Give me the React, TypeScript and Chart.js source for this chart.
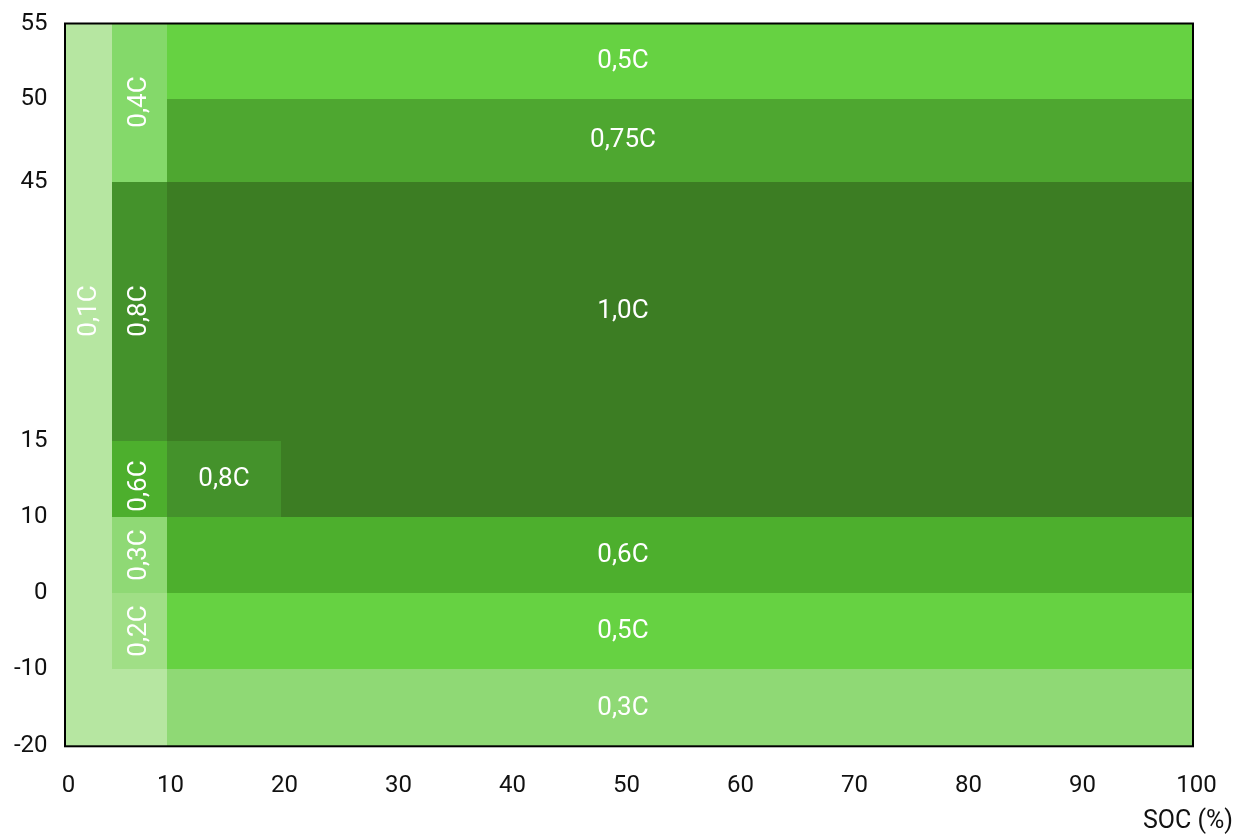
import React, { useEffect, useRef } from 'react';
import { Chart, LinearScale, registerables } from 'chart.js';

// ---------- data ----------
const SOC_EDGES = [0, 5, 10, 20, 100];
const TEMP_EDGES = [-20, -10, 0, 10, 15, 45, 50, 55];

// charge rate (C) per temperature band (bottom to top) and SOC band (left to right)
const RATE_M20_M10 = [0.1, 0.1, 0.3, 0.3];
const RATE_M10_0 = [0.1, 0.2, 0.5, 0.5];
const RATE_0_10 = [0.1, 0.3, 0.6, 0.6];
const RATE_10_15 = [0.1, 0.6, 0.8, 1.0];
const RATE_15_45 = [0.1, 0.8, 1.0, 1.0];
const RATE_45_50 = [0.1, 0.4, 0.75, 0.75];
const RATE_50_55 = [0.1, 0.4, 0.5, 0.5];
const RATE_ROWS = [RATE_M20_M10, RATE_M10_0, RATE_0_10, RATE_10_15, RATE_15_45, RATE_45_50, RATE_50_55];

const X_TICKS = [0, 10, 20, 30, 40, 50, 60, 70, 80, 90, 100];
const Y_TICKS = [-20, -10, 0, 10, 15, 45, 50, 55];
const X_TITLE = 'SOC (%)';

// labels of the merged regions (anchor in SOC / temperature units)
const LABEL_RATES = [0.1, 0.4, 0.8, 0.6, 0.3, 0.2, 0.5, 0.75, 1.0, 0.8, 0.6, 0.5, 0.3];
const LABEL_SOC = [2.5, 7.5, 7.5, 7.5, 7.5, 7.5, 50, 50, 50, 15, 50, 50, 50];
const LABEL_TEMP = [30, 49.8, 30, 12, 5, -5, 52.5, 47.5, 30, 12.5, 5, -5, -15];
const LABEL_VERTICAL = [true, true, true, true, true, true, false, false, false, false, false, false, false];

// ---------- style ----------
const RATE_COLORS: Record<string, string> = {
  '0.1': '#b6e6a1',
  '0.2': '#a0df86',
  '0.3': '#8fd975',
  '0.4': '#84d96a',
  '0.5': '#66d242',
  '0.6': '#4daf2d',
  '0.75': '#4ea730',
  '0.8': '#44922b',
  '1': '#3c7d23',
};
const X_BAND_WEIGHTS = [47, 54.7, 114.3, 912];
const Y_BAND_WEIGHTS = [77, 76, 76.6, 76, 259, 83, 75.2];
const FONT = 'Roboto, "Liberation Sans", Arial, sans-serif';
const TICK_COLOR = '#111111';

const fmtRate = (r: number) => {
  const tenth = Math.abs(r * 10 - Math.round(r * 10)) < 1e-9;
  return (tenth ? r.toFixed(1) : r.toFixed(2)).replace('.', ',') + 'C';
};

// piecewise-linear scale: each band between edges gets its own share of the axis
class BandScale extends LinearScale {
  static id = 'band';
  _frac(value: number): number {
    const o: any = this.options;
    const edges: number[] = o.bandEdges;
    const weights: number[] = o.bandWeights;
    if (!edges || !weights) return (value - this.min) / (this.max - this.min);
    const total = weights.reduce((a, b) => a + b, 0);
    let acc = 0;
    for (let i = 0; i < weights.length; i++) {
      const a = edges[i];
      const b = edges[i + 1];
      if (value <= b || i === weights.length - 1) {
        return (acc + (weights[i] * (value - a)) / (b - a)) / total;
      }
      acc += weights[i];
    }
    return 1;
  }
  getPixelForValue(value: number) {
    if (value === null || value === undefined || isNaN(value)) return NaN;
    return Math.round(this.getPixelForDecimal(this._frac(value)));
  }
  getValueForPixel(pixel: number) {
    const d = this.getDecimalForPixel(pixel);
    const o: any = this.options;
    const edges: number[] = o.bandEdges;
    const weights: number[] = o.bandWeights;
    if (!edges || !weights) return this.min + d * (this.max - this.min);
    const total = weights.reduce((a, b) => a + b, 0);
    let acc = 0;
    for (let i = 0; i < weights.length; i++) {
      const w = weights[i] / total;
      if (d <= acc + w || i === weights.length - 1) {
        return edges[i] + ((d - acc) / w) * (edges[i + 1] - edges[i]);
      }
      acc += w;
    }
    return this.max;
  }
}

Chart.register(...registerables, BandScale);

const regionLabels = {
  id: 'regionLabels',
  afterDatasetsDraw(chart: any) {
    const { ctx, chartArea: a } = chart;
    const x = chart.scales.x;
    const y = chart.scales.y;
    ctx.save();
    ctx.fillStyle = '#ffffff';
    ctx.font = `26px ${FONT}`;
    ctx.textAlign = 'center';
    ctx.textBaseline = 'middle';
    LABEL_RATES.forEach((r, i) => {
      const px = x.getPixelForValue(LABEL_SOC[i]);
      const py = y.getPixelForValue(LABEL_TEMP[i]);
      ctx.save();
      ctx.translate(px, py);
      if (LABEL_VERTICAL[i]) ctx.rotate(-Math.PI / 2);
      ctx.fillText(fmtRate(r), 0, 0);
      ctx.restore();
    });
    ctx.strokeStyle = '#000000';
    ctx.lineWidth = 2;
    ctx.strokeRect(a.left, a.top, a.right - a.left, a.bottom - a.top);
    ctx.restore();
  },
};

export default function App() {
  const ref = useRef<HTMLCanvasElement | null>(null);

  useEffect(() => {
    if (!ref.current) return;
    const datasets: any[] = [];
    RATE_ROWS.forEach((row, ri) => {
      row.forEach((rate, ci) => {
        datasets.push({
          data: [
            { x: SOC_EDGES[ci], y: TEMP_EDGES[ri + 1] },
            { x: SOC_EDGES[ci + 1], y: TEMP_EDGES[ri + 1] },
          ],
          fill: { value: TEMP_EDGES[ri] },
          backgroundColor: RATE_COLORS[String(rate)],
          borderColor: 'rgba(0,0,0,0)',
          borderWidth: 0,
          pointRadius: 0,
          pointHoverRadius: 0,
        });
      });
    });

    const chart = new Chart(ref.current, {
      type: 'line',
      data: { datasets },
      plugins: [regionLabels],
      options: {
        animation: false,
        responsive: false,
        devicePixelRatio: 1,
        events: [],
        layout: { padding: { left: 0, top: 23.5, right: 17, bottom: 0 } },
        plugins: {
          legend: { display: false },
          tooltip: { enabled: false },
          title: {
            display: true,
            text: X_TITLE,
            position: 'bottom',
            align: 'end',
            color: TICK_COLOR,
            font: { family: FONT, size: 25, weight: 'normal' },
            padding: { top: 0, bottom: 0 },
          },
        },
        scales: {
          x: {
            type: 'band',
            min: 0,
            max: 100,
            bandEdges: SOC_EDGES,
            bandWeights: X_BAND_WEIGHTS,
            grid: { display: false, drawTicks: false },
            border: { display: false },
            afterBuildTicks: (s: any) => {
              s.ticks = X_TICKS.map((v) => ({ value: v }));
            },
            afterFit: (s: any) => {
              s.height = 60.7;
              s.paddingLeft = 0;
              s.paddingRight = 0;
            },
            ticks: {
              autoSkip: false,
              maxRotation: 0,
              padding: 25.5,
              labelOffset: 3.5,
              color: TICK_COLOR,
              font: { family: FONT, size: 24 },
              callback: (v: any) => String(v),
            },
          } as any,
          y: {
            type: 'band',
            min: -20,
            max: 55,
            bandEdges: TEMP_EDGES,
            bandWeights: Y_BAND_WEIGHTS,
            grid: { display: false, drawTicks: false },
            border: { display: false },
            afterBuildTicks: (s: any) => {
              s.ticks = Y_TICKS.map((v) => ({ value: v }));
            },
            afterFit: (s: any) => {
              s.width = 65;
              s.paddingTop = 0;
              s.paddingBottom = 0;
            },
            ticks: {
              autoSkip: false,
              padding: 17.5,
              color: TICK_COLOR,
              font: { family: FONT, size: 24 },
              callback: (v: any) => String(v),
            },
          } as any,
          y2: {
            type: 'linear',
            position: 'right',
            grid: { display: false, drawTicks: false },
            border: { display: false },
            ticks: { display: false },
            afterFit: (s: any) => {
              s.width = 40;
              s.paddingTop = 0;
              s.paddingBottom = 0;
            },
          } as any,
        },
      } as any,
    });

    let alive = true;
    if ((document as any).fonts && (document as any).fonts.ready) {
      (document as any).fonts.ready.then(() => {
        if (alive) chart.update();
      });
    }
    return () => {
      alive = false;
      chart.destroy();
    };
  }, []);

  return (
    <div style={{ position: 'fixed', left: 0, top: 0, width: 1250, height: 837, background: '#fff' }}>
      <canvas ref={ref} width={1250} height={837} style={{ display: 'block' }} />
    </div>
  );
}
